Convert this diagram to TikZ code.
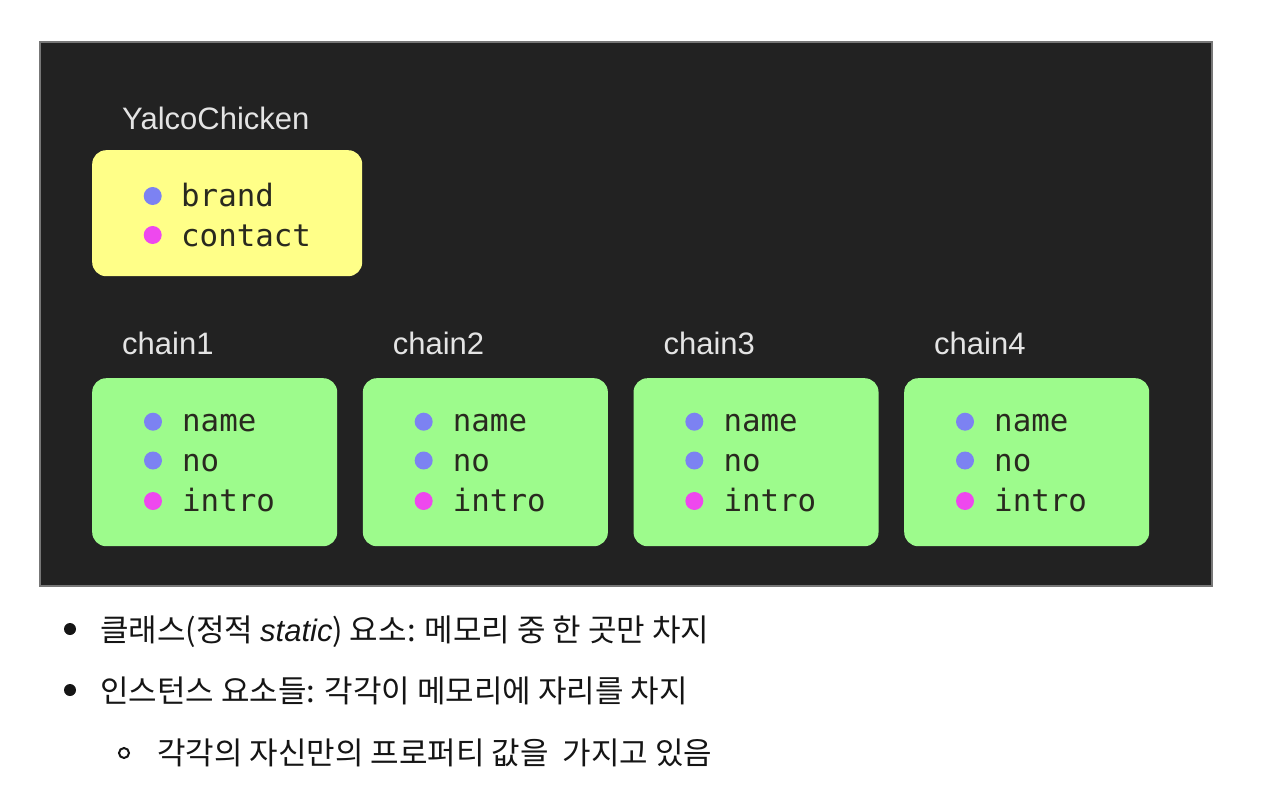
\documentclass[tikz,border=0pt]{standalone}
\usepackage{fontspec}
\setmainfont{Liberation Sans}
\setmonofont{DejaVu Sans Mono}
\newfontfamily\kofont{Noto Sans CJK KR}
\usetikzlibrary{positioning}
\definecolor{panelbg}{HTML}{222222}
\definecolor{panelrim}{HTML}{777777}
\definecolor{classyellow}{HTML}{FFFF88}
\definecolor{instgreen}{HTML}{9DFB8C}
\definecolor{dotblue}{HTML}{7C82F2}
\definecolor{dotpink}{HTML}{EE48EE}
\definecolor{labelgray}{HTML}{E4E4E4}
\definecolor{fieldtext}{HTML}{29291F}
\definecolor{notetext}{HTML}{151515}

\begin{document}
\begin{tikzpicture}[
  x=1pt, y=-1pt,
  box/.style={rectangle, rounded corners=14pt, inner sep=0pt, anchor=north west},
  klass/.style={box, fill=classyellow, minimum width=270pt, minimum height=126pt},
  inst/.style={box, fill=instgreen, minimum width=245pt, minimum height=168pt},
  title/.style={anchor=base west, inner sep=0pt, text=labelgray, font=\fontsize{31}{36}\selectfont},
  field/.style={anchor=base west, inner sep=0pt, text=fieldtext, font=\ttfamily\fontsize{30.8}{36}\selectfont},
  dot/.style={circle, inner sep=0pt, minimum size=18pt},
  note/.style={anchor=base west, inner sep=0pt, text=notetext, font=\kofont\fontsize{31}{36}\selectfont}
]
\useasboundingbox (0,0) rectangle (1284,784);
\fill[panelbg, draw=panelrim, line width=1.2pt] (40,42) rectangle (1212,586);

% class: one copy
\node[title] (yalcolbl) at (122,129) {YalcoChicken};
\node[klass] (yalco) at (92,150) {};
\node[dot, fill=dotblue] (brandd) at (152.7,196) {};
\node[field] (brand) at (181,206) {brand};
\node[dot, fill=dotpink] (contactd) at (152.7,235) {};
\node[field] (contact) at (181,246) {contact};

% instances
\foreach \n in {1,...,4} {
  \pgfmathsetmacro{\bx}{92+270.67*(\n-1)}
  \node[title] (chain\n lbl) at (\bx+30,354) {chain\n};
  \node[inst] (chain\n) at (\bx,378) {};
  \node[dot, fill=dotblue] (chain\n d1) at (\bx+61,421.7) {};
  \node[field] (chain\n f1) at (\bx+90,431.7) {name};
  \node[dot, fill=dotblue] (chain\n d2) at (\bx+61,460.5) {};
  \node[field] (chain\n f2) at (\bx+90,471.7) {no};
  \node[dot, fill=dotpink] (chain\n d3) at (\bx+61,501) {};
  \node[field] (chain\n f3) at (\bx+90,511.7) {intro};
}

% notes below
\fill[notetext] (70,629) circle (6pt);
\node[note] (note1) at (100,641) {클래스(정적 {\rmfamily\itshape static}) 요소: 메모리 중 한 곳만 차지};
\fill[notetext] (70,690) circle (6pt);
\node[note] (note2) at (100,702) {인스턴스 요소들: 각각이 메모리에 자리를 차지};
\draw[notetext, line width=2pt] (124,753) circle (5pt);
\node[note] (note3) at (157,764) {각각의 자신만의 프로퍼티 값을\ \ 가지고 있음};
\end{tikzpicture}
\end{document}
